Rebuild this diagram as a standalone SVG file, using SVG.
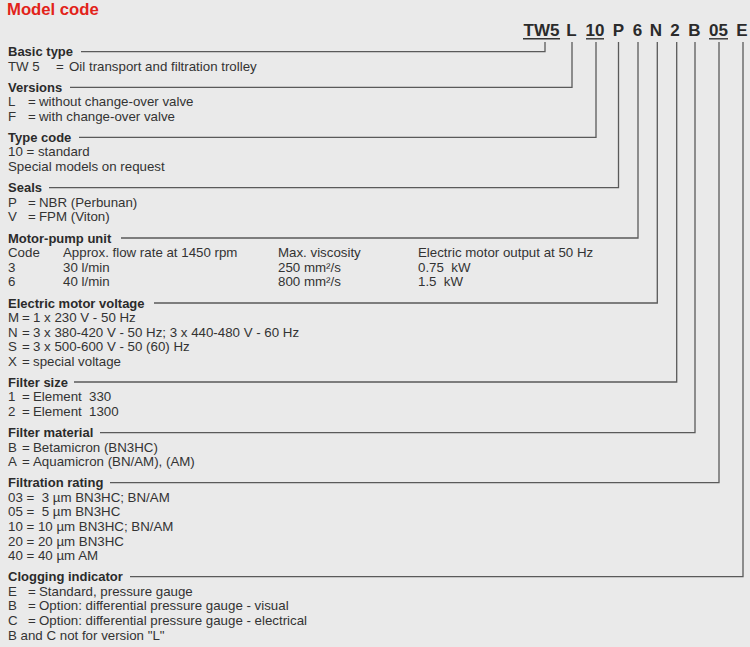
<svg xmlns="http://www.w3.org/2000/svg" width="750" height="647" viewBox="0 0 750 647">
<style>
  .bg { fill: #eaeaea; }
  .title { font-family: "Liberation Sans", Arial, sans-serif; font-size: 16.7px; font-weight: bold; fill: #e2231a; }
  .code { font-family: "Liberation Sans", Arial, sans-serif; font-size: 17px; font-weight: bold; fill: #2b2b2b; text-anchor: middle; }
  .h { font-family: "Liberation Sans", Arial, sans-serif; font-size: 13px; font-weight: bold; fill: #2b2b2b; }
  .t { font-family: "Liberation Sans", Arial, sans-serif; font-size: 13.3px; fill: #333333; }
  .ln { fill: none; stroke: #5a5a5a; stroke-width: 1.3; }
  .ul { stroke: #333333; stroke-width: 1.4; }
</style>
<rect class="bg" x="0" y="0" width="750" height="647"/>
<text class="title" x="7" y="15">Model code</text>

<g id="code">
  <text class="code" x="541.5" y="36">TW5</text>
  <text class="code" x="571.5" y="36">L</text>
  <text class="code" x="595" y="36">10</text>
  <text class="code" x="618.5" y="36">P</text>
  <text class="code" x="637.5" y="36">6</text>
  <text class="code" x="656" y="36">N</text>
  <text class="code" x="675" y="36">2</text>
  <text class="code" x="694.5" y="36">B</text>
  <text class="code" x="718.5" y="36">05</text>
  <text class="code" x="742" y="36">E</text>
  <line class="ul" x1="523" y1="38.8" x2="560" y2="38.8"/>
  <line class="ul" x1="586" y1="38.8" x2="604" y2="38.8"/>
  <line class="ul" x1="709" y1="38.8" x2="728" y2="38.8"/>
</g>

<g id="connectors">
  <path class="ln" d="M81 51.7 H545 V42"/>
  <path class="ln" d="M70 87.3 H572 V42"/>
  <path class="ln" d="M79 137.3 H596 V42"/>
  <path class="ln" d="M49 187.7 H618.5 V42"/>
  <path class="ln" d="M121 238 H638 V42"/>
  <path class="ln" d="M154 303 H657.3 V42"/>
  <path class="ln" d="M74 382 H676.7 V42"/>
  <path class="ln" d="M100 432.7 H695 V42"/>
  <path class="ln" d="M110 482.7 H719 V42"/>
  <path class="ln" d="M130 576.7 H743 V42"/>
</g>

<g id="basic-type">
  <text class="h" x="8" y="56.2">Basic type</text>
  <text class="t" y="70.8"><tspan x="8">TW 5</tspan><tspan x="56">=</tspan><tspan x="69">Oil transport and filtration trolley</tspan></text>
</g>

<g id="versions">
  <text class="h" x="8" y="91.8">Versions</text>
  <text class="t" y="106.4"><tspan x="8">L</tspan><tspan x="28">=</tspan><tspan x="39">without change-over valve</tspan></text>
  <text class="t" y="121"><tspan x="8">F</tspan><tspan x="28">=</tspan><tspan x="39">with change-over valve</tspan></text>
</g>

<g id="type-code">
  <text class="h" x="8" y="141.8">Type code</text>
  <text class="t" x="8" y="156.4">10 = standard</text>
  <text class="t" x="8" y="171">Special models on request</text>
</g>

<g id="seals">
  <text class="h" x="8" y="192.2">Seals</text>
  <text class="t" y="206.8"><tspan x="8">P</tspan><tspan x="28">=</tspan><tspan x="39">NBR (Perbunan)</tspan></text>
  <text class="t" y="221.4"><tspan x="8">V</tspan><tspan x="28">=</tspan><tspan x="39">FPM (Viton)</tspan></text>
</g>

<g id="motor-pump-unit">
  <text class="h" x="8" y="242.5">Motor-pump unit</text>
  <text class="t" y="257.1"><tspan x="8">Code</tspan><tspan x="63">Approx. flow rate at 1450 rpm</tspan><tspan x="278">Max. viscosity</tspan><tspan x="418">Electric motor output at 50 Hz</tspan></text>
  <text class="t" y="271.7" xml:space="preserve"><tspan x="8">3</tspan><tspan x="63">30 l/min</tspan><tspan x="278">250 mm²/s</tspan><tspan x="418">0.75  kW</tspan></text>
  <text class="t" y="286.3" xml:space="preserve"><tspan x="8">6</tspan><tspan x="63">40 l/min</tspan><tspan x="278">800 mm²/s</tspan><tspan x="418">1.5  kW</tspan></text>
</g>

<g id="electric-motor-voltage">
  <text class="h" x="8" y="307.5">Electric motor voltage</text>
  <text class="t" y="322.1"><tspan x="8">M</tspan><tspan x="22">=</tspan><tspan x="33">1 x 230 V - 50 Hz</tspan></text>
  <text class="t" y="336.7"><tspan x="8">N</tspan><tspan x="22">=</tspan><tspan x="33">3 x 380-420 V - 50 Hz; 3 x 440-480 V - 60 Hz</tspan></text>
  <text class="t" y="351.3"><tspan x="8">S</tspan><tspan x="22">=</tspan><tspan x="33">3 x 500-600 V - 50 (60) Hz</tspan></text>
  <text class="t" y="365.9"><tspan x="8">X</tspan><tspan x="22">=</tspan><tspan x="33">special voltage</tspan></text>
</g>

<g id="filter-size">
  <text class="h" x="8" y="386.5">Filter size</text>
  <text class="t" y="401.1"><tspan x="8">1</tspan><tspan x="22">=</tspan><tspan x="33">Element</tspan><tspan x="89">330</tspan></text>
  <text class="t" y="415.7"><tspan x="8">2</tspan><tspan x="22">=</tspan><tspan x="33">Element</tspan><tspan x="89">1300</tspan></text>
</g>

<g id="filter-material">
  <text class="h" x="8" y="437.2">Filter material</text>
  <text class="t" y="451.8"><tspan x="8">B</tspan><tspan x="22">=</tspan><tspan x="33">Betamicron (BN3HC)</tspan></text>
  <text class="t" y="466.4"><tspan x="8">A</tspan><tspan x="22">=</tspan><tspan x="33">Aquamicron (BN/AM), (AM)</tspan></text>
</g>

<g id="filtration-rating">
  <text class="h" x="8" y="487.2">Filtration rating</text>
  <text class="t" x="8" y="501.8" xml:space="preserve">03 =  3 µm BN3HC; BN/AM</text>
  <text class="t" x="8" y="516.4" xml:space="preserve">05 =  5 µm BN3HC</text>
  <text class="t" x="8" y="531">10 = 10 µm BN3HC; BN/AM</text>
  <text class="t" x="8" y="545.6">20 = 20 µm BN3HC</text>
  <text class="t" x="8" y="560.2">40 = 40 µm AM</text>
</g>

<g id="clogging-indicator">
  <text class="h" x="8" y="581.2">Clogging indicator</text>
  <text class="t" y="595.8"><tspan x="8">E</tspan><tspan x="28">=</tspan><tspan x="39">Standard, pressure gauge</tspan></text>
  <text class="t" y="610.4"><tspan x="8">B</tspan><tspan x="28">=</tspan><tspan x="39">Option: differential pressure gauge - visual</tspan></text>
  <text class="t" y="625"><tspan x="8">C</tspan><tspan x="28">=</tspan><tspan x="39">Option: differential pressure gauge - electrical</tspan></text>
  <text class="t" x="8" y="639.6">B and C not for version "L"</text>
</g>
</svg>
